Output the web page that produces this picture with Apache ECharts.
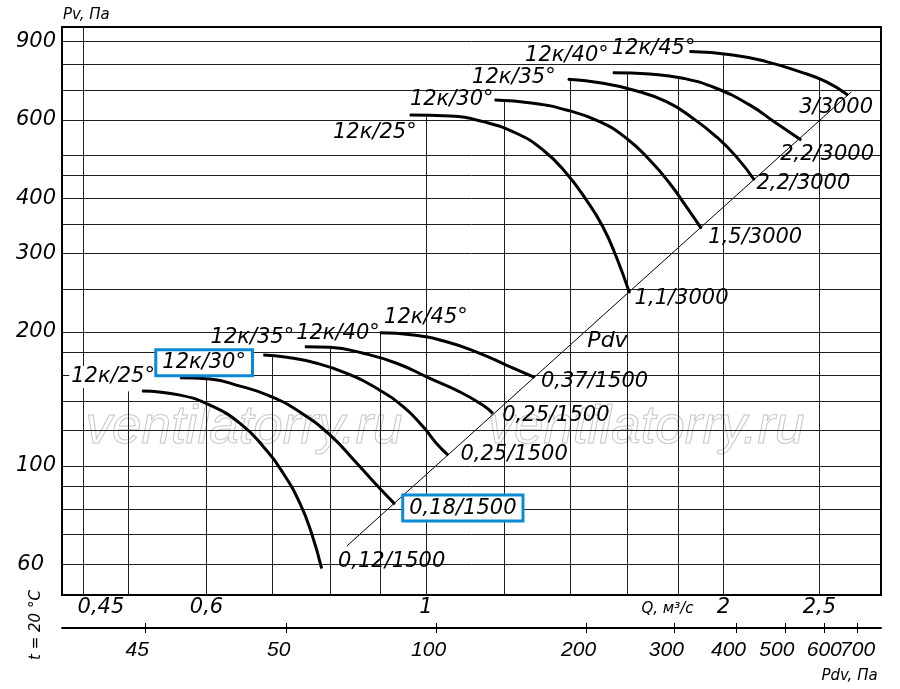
<!DOCTYPE html>
<html><head><meta charset="utf-8">
<script src="https://cdn.jsdelivr.net/npm/echarts@6/dist/echarts.min.js"></script>
<style>html,body{margin:0;padding:0;background:#fff}#c{width:900px;height:689px}</style>
</head><body><div id="c"></div>
<script>
// ---------- data ----------
const pvTicks = [60, 100, 200, 300, 400, 600, 900];
const pvGrid = [60, 70, 80, 90, 100, 120, 140, 160, 180, 200, 250, 300, 350, 400, 450, 500, 600, 700, 800, 900];
const qTicks = [0.45, 0.6, 1, 2, 2.5];
const qTickLabels = ['0,45', '0,6', '1', '2', '2,5'];
const qGrid = [0.45, 0.5, 0.6, 0.7, 0.8, 0.9, 1, 1.2, 1.4, 1.6, 1.8, 2, 2.5];
const qGridTop = [971, 147, 157, 177, 185, 200, 616, 660, 741, 766, 745, 840, 738];
const pdvTicks = [26, 50, 100, 200, 300, 400, 500, 600, 700];
const pdvTickLabels = ['45', '50', '100', '200', '300', '400', '500', '600', '700'];

// 1500 rpm curves
const q1500_25 = [0.5165, 0.5643, 0.6049, 0.6488, 0.685, 0.7176, 0.7459, 0.7665, 0.7845];
const p1500_25 = [147.3, 144.2, 136.9, 124.6, 110.4, 96.1, 82.3, 70.4, 58.8];
const q1500_30 = [0.5643, 0.6049, 0.6488, 0.6957, 0.7459, 0.7998, 0.8511, 0.8917, 0.9304];
const p1500_30 = [157.8, 156.7, 151.1, 143.5, 132.1, 117.3, 101.4, 90.5, 82.0];
const q1500_35 = [0.685, 0.7234, 0.7757, 0.8317, 0.8917, 0.9486, 0.9938, 1.0252, 1.0532];
const p1500_35 = [177.5, 175.4, 170.1, 161.4, 149.4, 135.8, 122.4, 112.3, 105.7];
const q1500_40 = [0.7547, 0.80, 0.8643, 0.9342, 1.0093, 1.0823, 1.1425, 1.169];
const p1500_40 = [185.3, 184.7, 179.1, 170.1, 157.3, 146.7, 136.9, 131.2];
const q1500_45 = [0.8986, 0.9709, 1.0493, 1.1337, 1.206, 1.288];
const p1500_45 = [199.2, 196.9, 190.1, 179.1, 168.5, 158.1];
// 3000 rpm curves
const q3000_25 = [0.9634, 1.0574, 1.1425, 1.2346, 1.3138, 1.387, 1.453, 1.51, 1.558, 1.607];
const p3000_25 = [615.7, 612.4, 594.6, 560.0, 513.5, 455.1, 396.3, 345.1, 295.3, 244.7];
const q3000_30 = [1.174, 1.284, 1.387, 1.499, 1.595, 1.684, 1.764, 1.834, 1.899];
const p3000_30 = [665, 654.3, 631.8, 594.6, 545.8, 487.5, 432.2, 382.8, 342.2];
const q3000_35 = [1.392, 1.499, 1.62, 1.751, 1.862, 1.966, 2.06, 2.149];
const p3000_35 = [740.8, 727.8, 700.8, 659.5, 605.4, 550.4, 496.1, 439.5];
const q3000_40 = [1.546, 1.684, 1.82, 1.966, 2.125, 2.262, 2.396];
const p3000_40 = [766.4, 761.3, 744.5, 707, 648.5, 589.7, 541];
const q3000_45 = [1.848, 2.043, 2.209, 2.387, 2.539, 2.671];
const p3000_45 = [854.8, 840.3, 811.6, 770.6, 731.5, 682.9];

const startNames = ['12к/25°', '12к/30°', '12к/35°', '12к/40°', '12к/45°', '12к/25°', '12к/30°', '12к/35°', '12к/40°', '12к/45°'];
const endNames = ['0,12/1500', '0,18/1500', '0,25/1500', '0,25/1500', '0,37/1500', '1,1/3000', '1,5/3000', '2,2/3000', '2,2/3000', '3/3000'];

// system (dynamic pressure) line
const pdvLineQ = [0.832, 2.693];
const pdvLineP = [66, 693.6];

// ---------- layout / style (not data) ----------
const FONT = 'DejaVu Sans';
const txt = {fontFamily: FONT, fontStyle: 'italic', fontSize: 21, color: '#000'};
const BLUE = '#0b8ad6';
const boxStyle = {backgroundColor: '#fff', borderColor: BLUE, borderWidth: 3, padding: [2, 5, 0, 5]};
const layout = [
  {s: [-29, -14], e: [70, -7], sStyle: {backgroundColor: '#fff', padding: [1, 2, 0, 2]}},
  {s: [24, -15], e: [68, 4], sStyle: boxStyle, eStyle: boxStyle},
  {s: [-11, -17.4], e: [66, -1]},
  {s: [33, -13.4], e: [63, 2]},
  {s: [46, -15.6], e: [60, 4]},
  {s: [-35, 17.5], e: [52, 5]},
  {s: [-43, -1], e: [54, 9]},
  {s: [-54, -2], e: [49, 4]},
  {s: [-46, -17], e: [26, 15]},
  {s: [-36, -3], e: [-11.6, 13]}
];
const pdvLabelShift = [1, 1, 1, 1, 1, 1, 1, 0, 0];
const curveQ = [q1500_25, q1500_30, q1500_35, q1500_40, q1500_45, q3000_25, q3000_30, q3000_35, q3000_40, q3000_45];
const curveP = [p1500_25, p1500_30, p1500_35, p1500_40, p1500_45, p3000_25, p3000_30, p3000_35, p3000_40, p3000_45];

const Q_MIN = 0.4286, Q_MAX = 2.886, P_MIN = 51.2, P_MAX = 971;
const PDV_MIN = 17.7, PDV_MAX = 780;

function nearestIdx(arr, v) {
  let best = 0, bd = Infinity;
  arr.forEach((a, i) => { const d = Math.abs(Math.log(a) - Math.log(v)); if (d < bd) { bd = d; best = i; } });
  return best;
}

const curveSeries = curveQ.map((qs, k) => {
  const L = layout[k];
  return {
    type: 'line', smooth: 0.5, z: 5,
    symbol: 'circle', symbolSize: 1, showSymbol: true,
    itemStyle: {color: '#000'},
    lineStyle: {color: '#000', width: 3},
    emphasis: {disabled: true},
    data: qs.map((q, i) => {
      const item = {value: [q, curveP[k][i]]};
      if (i === 0) item.label = Object.assign({show: true, position: 'inside', formatter: startNames[k], offset: L.s}, txt, L.sStyle || {});
      if (i === qs.length - 1) item.label = Object.assign({show: true, position: 'inside', formatter: endNames[k], offset: L.e}, txt, L.eStyle || {});
      return item;
    })
  };
});

const gridLines = [];
pvGrid.forEach(v => gridLines.push({yAxis: v}));
qGrid.forEach((q, i) => gridLines.push([{coord: [q, P_MIN]}, {coord: [q, qGridTop[i]]}]));

const pdvTxt = {fontFamily: 'Liberation Sans', fontStyle: 'italic', fontSize: 21, color: '#000'};
// alternate labels over two overlapping axes so that no automatic overlap hiding happens
const pdvEven = pdvTicks.filter((v, i) => i % 2 === 0);
const pdvOdd = pdvTicks.filter((v, i) => i % 2 === 1);
const pdvFmt = v => { const i = nearestIdx(pdvTicks, v); return (pdvLabelShift[i] ? '{s|' : '{c|') + pdvTickLabels[i] + '}'; };
const pdvRich = {s: {...pdvTxt, padding: [0, 16, 0, 0]}, c: {...pdvTxt}};

const option = {
  animation: false,
  backgroundColor: '#fff',
  grid: {left: 62, right: 19, top: 27, bottom: 94, show: true, borderColor: '#000', borderWidth: 2, backgroundColor: 'transparent'},
  xAxis: [
    {
      type: 'log', logBase: 10, min: Q_MIN, max: Q_MAX,
      axisLine: {show: false}, axisTick: {show: false}, splitLine: {show: false}, minorSplitLine: {show: false},
      axisLabel: {
        customValues: qTicks, margin: 2, hideOverlap: false, showMinLabel: true, showMaxLabel: true, ...txt,
        formatter: v => { const i = nearestIdx(qTicks, v); return i === 0 ? '{o|' + qTickLabels[i] + '}' : qTickLabels[i]; },
        rich: {o: {...txt, padding: [0, 0, 0, 36]}}
      }
    },
    {
      type: 'log', logBase: 10, min: PDV_MIN, max: PDV_MAX, position: 'bottom', offset: 33,
      axisLine: {show: true, lineStyle: {color: '#000', width: 2}},
      axisTick: {show: true, customValues: pdvTicks, inside: true, length: 5, lineStyle: {color: '#000', width: 1}},
      splitLine: {show: false},
      axisLabel: {customValues: pdvEven, margin: 12, hideOverlap: false, ...pdvTxt, formatter: pdvFmt, rich: pdvRich}
    },
    {
      type: 'log', logBase: 10, min: PDV_MIN, max: PDV_MAX, position: 'bottom', offset: 33,
      axisLine: {show: false},
      axisTick: {show: true, customValues: pdvTicks, inside: false, length: 5, lineStyle: {color: '#000', width: 1}},
      splitLine: {show: false},
      axisLabel: {customValues: pdvOdd, margin: 12, hideOverlap: false, ...pdvTxt, formatter: pdvFmt, rich: pdvRich}
    }
  ],
  yAxis: {
    type: 'log', logBase: 10, min: P_MIN, max: P_MAX,
    axisLine: {show: false}, axisTick: {show: false}, splitLine: {show: false}, minorSplitLine: {show: false},
    axisLabel: {
      customValues: pvTicks, margin: 6, hideOverlap: false, showMinLabel: true, showMaxLabel: true, ...txt,
      formatter: v => { const i = nearestIdx(pvTicks, v); return pvTicks[i] === 60 ? '{n|60}' : String(pvTicks[i]); },
      rich: {n: {...txt, padding: [0, 12, 0, 0]}}
    }
  },
  graphic: [
    {type: 'text', x: 244, y: 428, z: 0, silent: true, style: {text: 'ventilatorry.ru', font: 'italic 53px "Liberation Sans"', fill: 'rgba(255,255,255,0)', stroke: '#c6c6c6', lineWidth: 1, align: 'center', verticalAlign: 'middle'}},
    {type: 'text', x: 646, y: 428, z: 0, silent: true, style: {text: 'ventilatorry.ru', font: 'italic 53px "Liberation Sans"', fill: 'rgba(255,255,255,0)', stroke: '#c6c6c6', lineWidth: 1, align: 'center', verticalAlign: 'middle'}},
    {type: 'text', x: 63, y: 15, z: 10, style: {text: 'Pv, Па', font: 'italic 15px "DejaVu Sans"', fill: '#000', align: 'left', verticalAlign: 'middle'}},
    {type: 'text', x: 667.5, y: 609, z: 10, style: {text: 'Q, м³/с', font: 'italic 15px "DejaVu Sans"', fill: '#000', align: 'center', verticalAlign: 'middle'}},
    {type: 'text', x: 849.5, y: 676.5, z: 10, style: {text: 'Pdv, Па', font: 'italic 15px "DejaVu Sans"', fill: '#000', align: 'center', verticalAlign: 'middle'}},
    {type: 'text', x: 36, y: 625, rotation: Math.PI / 2, z: 10, style: {text: 't = 20 °C', font: 'italic 15px "DejaVu Sans"', fill: '#000', align: 'center', verticalAlign: 'middle'}},
    {type: 'text', x: 607.5, y: 341, z: 10, style: {text: 'Pdv', font: 'italic 22px "DejaVu Sans"', fill: '#000', align: 'center', verticalAlign: 'middle'}}
  ],
  series: [
    {
      type: 'line', data: [], z: 1, silent: true,
      markLine: {silent: true, symbol: ['none', 'none'], animation: false, label: {show: false}, emphasis: {disabled: true},
        lineStyle: {color: '#1e1e1e', width: 1, type: 'solid'}, data: gridLines}
    },
    {
      type: 'line', z: 3, symbol: 'none', silent: true,
      lineStyle: {color: '#000', width: 1},
      data: pdvLineQ.map((q, i) => [q, pdvLineP[i]])
    },
    ...curveSeries
  ]
};
const chart = echarts.init(document.getElementById('c'));
chart.setOption(option);
</script>
</body></html>
